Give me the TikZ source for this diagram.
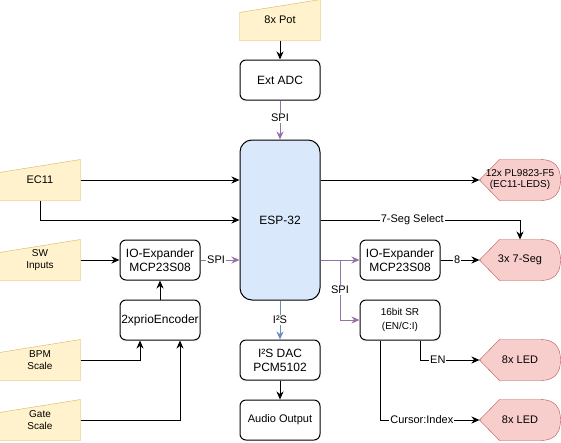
\documentclass[tikz,border=0pt]{standalone}
\usepackage{fontspec}
\setmainfont{Liberation Sans}
\usetikzlibrary{arrows.meta,backgrounds}

\definecolor{inFill}{HTML}{FFF2CC}
\definecolor{inLine}{HTML}{D6B656}
\definecolor{outFill}{HTML}{F8CECC}
\definecolor{outLine}{HTML}{B85450}
\definecolor{espFill}{HTML}{DAE8FC}
\definecolor{spiLine}{HTML}{9673A6}
\definecolor{iisLine}{HTML}{6C8EBF}

\begin{document}
\begin{tikzpicture}[x=1pt, y=-1pt, line width=1pt,
        box/.style={draw, rounded corners=6pt, minimum width=80pt, minimum height=40pt,
            inner sep=1pt, align=center, font=\fontsize{12}{14}\selectfont},
        port/.style={minimum width=80pt, minimum height=40pt, inner sep=1pt,
            align=center, font=\fontsize{11}{13}\selectfont},
        small/.style={font=\fontsize{10}{12.5}\selectfont},
        lbl/.style={fill=white, inner sep=1pt, font=\fontsize{11}{13}\selectfont},
        arr/.style={-{Stealth[length=8pt, width=7pt, inset=2.5pt]}},
        spi/.style={arr, draw=spiLine},
        iis/.style={arr, draw=iisLine}]
            \useasboundingbox (0,0) rectangle (561,442);

            % Middle column
            \node[port] (pot) at (280,20) {8x Pot};
            \node[box] (adc) at (280,80) {Ext ADC};
            \node[box, fill=espFill, rounded corners=12pt, minimum height=160pt] (esp) at (280,220) {ESP-32};
            \node[box] (dac) at (280,360) {I²S DAC\\PCM5102};
            \node[box, font=\fontsize{11}{13}\selectfont] (aud) at (280,420) {Audio Output};

            % Inputs on the left
            \node[port] (ec) at (40,180) {EC11};
            \node[port, small] (sw) at (40,260) {SW\\Inputs};
            \node[port, small] (bpm) at (40,360) {BPM\\Scale};
            \node[port, small] (gate) at (40,420) {Gate\\Scale};
            \node[box] (ioa) at (160,260) {IO-Expander\\MCP23S08};
            \node[box] (enc) at (160,320) {2xprioEncoder};

            % Outputs on the right
            \node[box] (iob) at (400,260) {IO-Expander\\MCP23S08};
            \node[box, font=\fontsize{10}{14}\selectfont] (sr) at (400,320) {16bit SR\\(EN/C:I)};
            \node[port, font=\fontsize{10}{11}\selectfont] (pl) at (520,180) {12x PL9823-F5\\(EC11-LEDS)};
            \node[port] (seg) at (520,260) {3x 7-Seg};
            \node[port] (leda) at (520,360) {8x LED};
            \node[port] (ledb) at (520,420) {8x LED};

            % Draw the input and display shapes behind the texts
            \begin{scope}[on background layer]
                \foreach \n in {pot,ec,sw,bpm,gate}
                    \filldraw[fill=inFill, draw=inLine] (\n.south west) -- ([yshift=-13pt]\n.north west)
                        -- (\n.north east) -- (\n.south east) -- cycle;
                \foreach \n in {pl,seg,leda,ledb}
                    \filldraw[fill=outFill, draw=outLine] (\n.west) -- ([xshift=20pt]\n.north west)
                        -- ([xshift=-20pt]\n.north east)
                        .. controls ([xshift=-6.67pt]\n.north east) and ([yshift=-6.67pt]\n.north east) .. (\n.east)
                        .. controls ([yshift=6.67pt]\n.south east) and ([xshift=-6.67pt]\n.south east) .. ([xshift=-20pt]\n.south east)
                        -- ([xshift=20pt]\n.south west) -- cycle;
            \end{scope}

            % Connections
            \draw[arr] (pot) -- (adc);
            \draw[spi] (adc) -- node[lbl, pos=0.45] {SPI} (esp);
            \draw[arr] (ec) -- (ec -| esp.west);
            \draw[arr] (ec) |- (esp.west);
            \draw[arr] (esp.east |- pl) -- (pl);
            \draw[arr] (esp.east) -| node[lbl, pos=0.23] {7-Seg Select} (seg);
            \draw[arr] (sw) -- (ioa);
            \draw[spi] (ioa) -- node[lbl, pos=0.4] {SPI} (ioa -| esp.west);
            \draw[arr] (enc) -- (ioa);
            \draw[arr] (bpm) -| ([xshift=-20pt]enc.south);
            \draw[arr] (gate) -| ([xshift=20pt]enc.south);
            \draw[iis] (esp) -- node[lbl] {I²S} (dac);
            \draw[arr] (dac) -- (aud);
            \draw[spi] (esp.east |- iob) -- (iob);
            \coordinate (spiSplit) at (340,260);
            \draw[spi] (spiSplit) |- node[lbl, pos=0.25] {SPI} (sr);
            \draw[arr] (iob) -- node[lbl, pos=0.43] {8} (seg);
            \draw[arr] ([xshift=20pt]sr.south) |- node[lbl, pos=0.65] {EN} (leda);
            \draw[arr] ([xshift=-20pt]sr.south) |- node[lbl, pos=0.71] {Cursor:Index} (ledb);
        \end{tikzpicture}
\end{document}
